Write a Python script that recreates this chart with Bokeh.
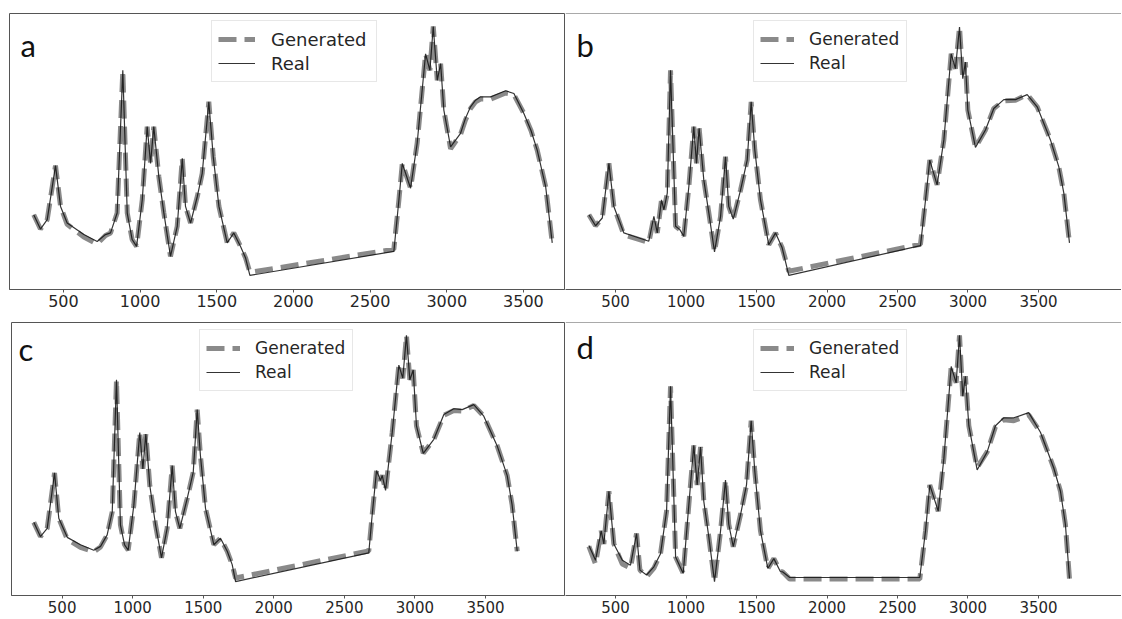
from bokeh.plotting import figure
from bokeh.layouts import column, row
from bokeh.models import FixedTicker, Legend, LegendItem, Label, Span, Range1d
from bokeh.embed import file_html
from bokeh.resources import INLINE

# ---------------- data (wavenumber, normalised intensity) ----------------
tick_values = [500, 1000, 1500, 2000, 2500, 3000, 3500]
series_names = ["Generated", "Real"]
panel_letters = ["a", "b", "c", "d"]

wn_a = [306, 350, 394, 448, 481, 524, 633, 720, 774, 807, 850, 887, 916, 948, 977,
        1014, 1046, 1068, 1089, 1122, 1155, 1198, 1242, 1275, 1296, 1329, 1373, 1405,
        1448, 1477, 1514, 1568, 1611, 1655, 1688, 1716, 2655, 2688, 2710, 2764, 2807,
        2862, 2890, 2912, 2938, 2960, 2981, 3025, 3090, 3122, 3155, 3188, 3220, 3286, 3384, 3438,
        3503, 3550, 3590, 3645, 3688]
real_a = [.271, .219, .253, .449, .301, .241, .199, .174, .199, .205, .277, .794, .277, .181, .156,
          .325, .590, .457, .590, .409, .277, .120, .229, .475, .301, .241, .337, .421,
          .680, .481, .301, .169, .205, .156, .114, .051, .138, .325, .457, .367, .530,
          .854, .794, .953, .758, .818, .650, .517, .566, .620, .662, .686, .698, .698, .720, .710,
          .638, .575, .505, .373, .169]
gen_a = [.271, .219, .253, .449, .301, .236, .190, .165, .196, .205, .277, .794, .277, .181, .156,
         .325, .590, .457, .590, .409, .277, .120, .229, .475, .301, .241, .337, .421,
         .680, .481, .301, .169, .205, .156, .114, .062, .146, .325, .457, .367, .530,
         .854, .794, .953, .758, .818, .650, .510, .562, .614, .656, .680, .690, .690, .712, .706,
         .638, .575, .505, .373, .169]

wn_b = [311, 358, 406, 453, 488, 559, 630, 736, 772, 796, 826, 843, 867, 890, 926, 956, 984,
        1020, 1055, 1074, 1093, 1126, 1162, 1202, 1245, 1280, 1303, 1335, 1387, 1434, 1462,
        1488, 1528, 1587, 1635, 1682, 1729, 2663, 2699, 2729, 2781, 2829, 2881, 2911, 2940,
        2963, 2982, 2999, 3053, 3124, 3183, 3254, 3337, 3420, 3491, 3585, 3644, 3680, 3720]
real_b = [.271, .231, .259, .457, .301, .205, .193, .175, .265, .205, .325, .289, .349, .794, .229, .217, .193,
          .373, .590, .457, .584, .397, .277, .136, .265, .481, .301, .255, .361, .469, .680,
          .505, .325, .162, .205, .151, .051, .159, .325, .469, .379, .542, .854, .800, .951,
          .764, .824, .650, .515, .578, .656, .688, .688, .706, .662, .542, .445, .349, .169]
gen_b = [.271, .231, .259, .457, .301, .198, .187, .170, .262, .205, .325, .289, .349, .794, .229, .217, .193,
         .373, .590, .457, .584, .397, .277, .136, .265, .481, .301, .255, .361, .469, .680,
         .505, .325, .162, .205, .151, .066, .164, .325, .469, .379, .542, .854, .800, .951,
         .764, .824, .650, .515, .578, .656, .684, .686, .706, .662, .542, .445, .349, .169]

wn_c = [299, 346, 394, 446, 476, 536, 630, 724, 772, 819, 855, 885, 913, 942, 968,
        1008, 1050, 1072, 1093, 1121, 1162, 1204, 1244, 1280, 1303, 1334, 1386, 1429, 1457,
        1480, 1516, 1575, 1622, 1670, 1705, 1729, 2673, 2697, 2728, 2756, 2768, 2792, 2839,
        2886, 2914, 2940, 2964, 2988, 3011, 3059, 3134, 3205, 3276, 3335, 3417, 3488, 3583,
        3654, 3689, 3725]
real_c = [.268, .216, .246, .449, .283, .213, .186, .166, .180, .222, .307, .790, .258, .186, .166,
          .331, .597, .464, .591, .403, .258, .138, .246, .476, .307, .246, .355, .452, .681,
          .512, .319, .186, .210, .162, .113, .051, .156, .295, .458, .421, .440, .385, .597,
          .844, .796, .953, .790, .826, .621, .521, .572, .663, .684, .681, .699, .657, .548,
          .439, .331, .162]
gen_c = [.268, .216, .246, .449, .283, .206, .176, .160, .178, .222, .307, .790, .258, .186, .166,
         .331, .597, .464, .591, .403, .258, .138, .246, .476, .307, .246, .355, .452, .681,
         .512, .319, .186, .210, .162, .113, .064, .163, .295, .458, .421, .440, .385, .597,
         .844, .796, .953, .790, .826, .621, .521, .572, .660, .678, .676, .696, .657, .548,
         .439, .331, .162]

wn_d = [311, 358, 398, 417, 453, 488, 548, 606, 649, 673, 720, 772, 819, 862, 890, 926, 980,
        1020, 1055, 1079, 1103, 1126, 1162, 1202, 1245, 1280, 1303, 1335, 1387, 1429, 1462,
        1488, 1528, 1580, 1623, 1670, 1684, 1736, 2658, 2699, 2729, 2789, 2829, 2881, 2916,
        2940, 2963, 2982, 3006, 3065, 3136, 3195, 3254, 3325, 3431, 3514, 3609, 3656, 3691, 3720]
real_d = [.183, .129, .237, .189, .382, .189, .129, .111, .227, .093, .075, .105, .153, .309, .766, .141, .081,
          .333, .550, .405, .544, .345, .213, .051, .237, .423, .261, .179, .297, .405, .640,
          .454, .237, .099, .135, .087, .087, .066, .066, .237, .405, .309, .502, .839, .779,
          .953, .730, .803, .622, .460, .526, .622, .651, .651, .670, .598, .466, .382, .261, .062]
gen_d = [.180, .115, .237, .189, .382, .189, .115, .100, .227, .093, .068, .100, .153, .309, .766, .141, .081,
         .333, .550, .405, .544, .345, .213, .051, .237, .423, .261, .179, .297, .405, .640,
         .454, .237, .099, .135, .087, .087, .060, .060, .237, .405, .309, .502, .839, .779,
         .953, .730, .803, .622, .468, .526, .618, .644, .640, .662, .598, .466, .382, .261, .062]

# ---------------- styling ----------------
SPINE = "#555555"
TEXT = "#262626"
GEN_COLOR = "#808080"
REAL_COLOR = "#111111"


def make_panel(letter, wn, real, gen, xr, width, height, mb_left, mb_right, mb_top, mb_bottom,
               tick_size, leg_size, glyph_w, standoff, label_w, leg_x, letter_x, letter_dy,
               full_outline):
    p = figure(width=width, height=height, x_range=Range1d(*xr), y_range=Range1d(0, 1),
               output_backend="svg", toolbar_location=None, y_axis_location=None,
               min_border_left=mb_left, min_border_right=mb_right,
               min_border_top=mb_top, min_border_bottom=mb_bottom)
    p.xgrid.visible = False
    p.ygrid.visible = False
    p.background_fill_color = "white"
    p.border_fill_color = "white"
    if full_outline:
        p.outline_line_color = SPINE
        p.outline_line_width = 1
    else:
        p.outline_line_color = None
        p.add_layout(Span(location=1.0, dimension="width", line_color=SPINE, line_width=1))

    g = p.line(wn, gen, line_color=GEN_COLOR, line_width=5, line_dash="18 8", line_alpha=0.92)
    r = p.line(wn, real, line_color=REAL_COLOR, line_width=1.2, line_alpha=0.85)

    ax = p.xaxis[0]
    ax.ticker = FixedTicker(ticks=tick_values)
    ax.major_label_text_font = "DejaVu Sans"
    ax.major_label_text_font_size = tick_size
    ax.major_label_text_color = TEXT
    ax.major_tick_out = 3
    ax.major_tick_in = 0
    ax.minor_tick_out = 0
    ax.minor_tick_in = 0
    ax.major_label_standoff = 2
    ax.axis_line_color = SPINE
    ax.major_tick_line_color = SPINE

    frame_h = height - mb_top - mb_bottom
    leg_h = 60
    legend = Legend(items=[LegendItem(label=series_names[0], renderers=[g]),
                           LegendItem(label=series_names[1], renderers=[r])],
                    location=(leg_x, frame_h - 9 - leg_h),
                    padding=6, spacing=0, margin=0,
                    glyph_width=glyph_w, glyph_height=24, label_height=24,
                    label_width=label_w, label_standoff=standoff,
                    label_text_font="DejaVu Sans", label_text_font_size=leg_size,
                    label_text_color=TEXT,
                    border_line_color="#d0d0d0", border_line_width=1,
                    background_fill_color="white", background_fill_alpha=0.85)
    p.add_layout(legend)

    p.add_layout(Label(x=letter_x, y=frame_h - letter_dy, x_units="screen", y_units="screen",
                       text=letter, text_font="Lato", text_font_size="31px",
                       text_color="#111111", text_baseline="alphabetic", text_align="left"))
    return p


pa = make_panel(panel_letters[0], wn_a, real_a, gen_a, (148, 3768), 565, 314, 9, 1, 13, 25,
                "16px", "18px", 37, 16, 99, 202, 11, 31, True)
pb = make_panel(panel_letters[1], wn_b, real_b, gen_b, (145, 4089), 556, 314, 0, 0, 13, 25,
                "15px", "17px", 34, 15, 91, 188, 11, 31, False)
pc = make_panel(panel_letters[2], wn_c, real_c, gen_c, (141, 4060), 565, 304, 11, 1, 8, 23,
                "15px", "17px", 34, 15, 91, 188, 7, 26, True)
pd_ = make_panel(panel_letters[3], wn_d, real_d, gen_d, (145, 4089), 556, 304, 0, 0, 8, 23,
                 "15px", "17px", 34, 15, 91, 188, 11, 24, False)

layout = column(row(pa, pb), row(pc, pd_))
open("out.html", "w").write(file_html(layout, INLINE))
